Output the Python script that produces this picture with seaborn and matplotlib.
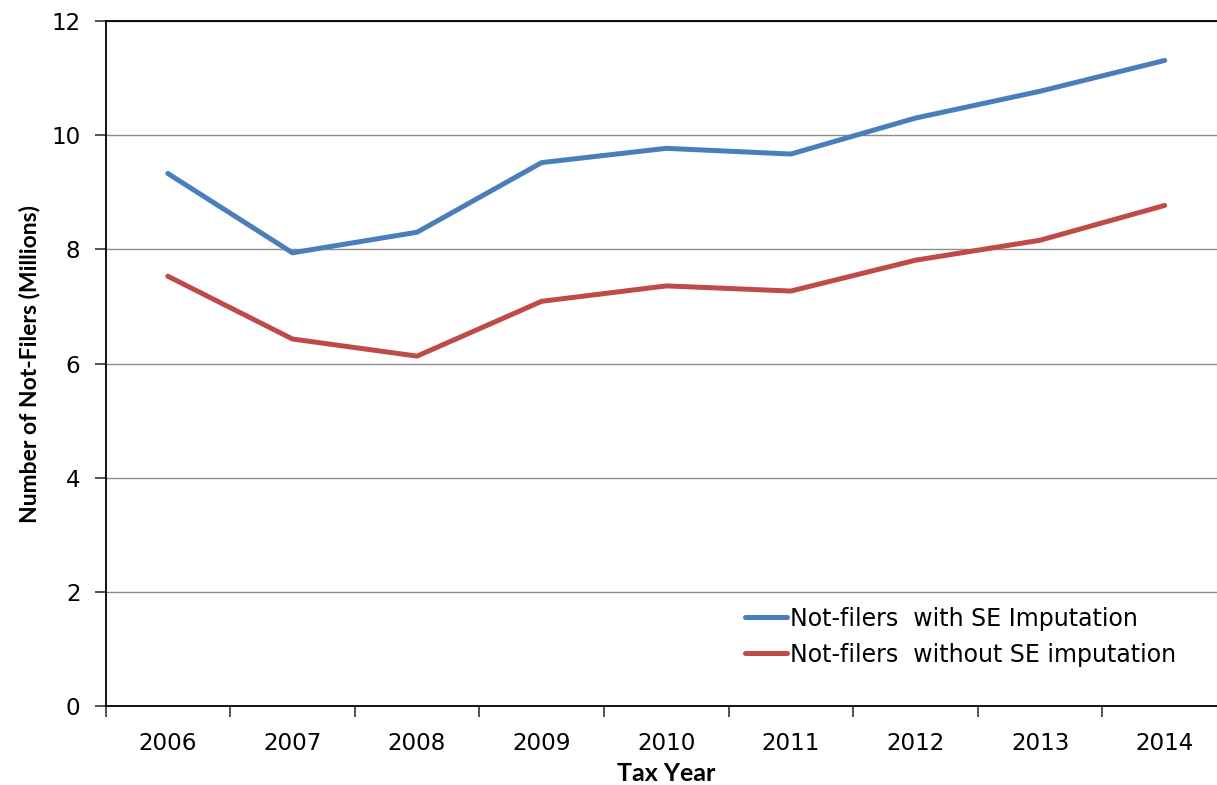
import matplotlib
matplotlib.use("Agg")
import matplotlib.pyplot as plt
import seaborn as sns
import pandas as pd

years = [2006, 2007, 2008, 2009, 2010, 2011, 2012, 2013, 2014]
with_se = [9.33, 7.94, 8.30, 9.52, 9.77, 9.67, 10.30, 10.77, 11.31]
without_se = [7.53, 6.43, 6.13, 7.09, 7.36, 7.27, 7.81, 8.16, 8.77]
series_names = ["Not-filers  with SE Imputation", "Not-filers  without SE imputation"]
colors = ["#4A7EBB", "#BE4B48"]

df = pd.DataFrame({
    "Tax Year": years * 2,
    "value": with_se + without_se,
    "series": [series_names[0]] * len(years) + [series_names[1]] * len(years),
})

sns.set_style("white")
plt.rcParams["font.family"] = ["DejaVu Sans"]
plt.rcParams["text.color"] = "black"
plt.rcParams["xtick.color"] = "black"
plt.rcParams["ytick.color"] = "black"
plt.rcParams["axes.labelcolor"] = "black"

fig = plt.figure(figsize=(12.17, 7.85), dpi=100)
ax = fig.add_axes([0.0867, 0.1006, 0.9215, 0.8726])

sns.lineplot(data=df, x="Tax Year", y="value", hue="series",
             palette=colors, linewidth=3.6, ax=ax,
             solid_capstyle="round")

ax.set_xlim(years[0] - 0.5, years[-1] + 0.5)
ax.set_ylim(0, 12)
ax.set_yticks(range(0, 13, 2))
ax.yaxis.grid(True, color="#8c8c8c", linewidth=1.0)
ax.set_axisbelow(True)

# category boundaries carry the tick marks, labels sit at category centres
ax.set_xticks([y - 0.5 for y in years] + [years[-1] + 0.5])
ax.set_xticklabels([])
ax.set_xticks(years, minor=True)
ax.set_xticklabels([str(y) for y in years], minor=True, fontsize=16.6)
ax.tick_params(axis="x", which="major", length=8, width=1.2, color="#333333", direction="out", bottom=True)
ax.tick_params(axis="x", which="minor", length=0, pad=19)
ax.tick_params(axis="y", length=8, width=1.2, color="#333333", direction="out", left=True,
               labelsize=16.6, pad=10)

for side in ["left", "bottom", "top"]:
    ax.spines[side].set_visible(True)
    ax.spines[side].set_color("black")
    ax.spines[side].set_linewidth(1.3)
ax.spines["right"].set_visible(False)

ax.set_xlabel("Tax Year", fontsize=18, fontweight="bold", family="Lato", labelpad=5)
ax.set_ylabel("Number of Not-Filers (Millions)", fontsize=16.5, fontweight="bold",
              family="Lato", labelpad=8)

leg = ax.legend(loc="upper left", bbox_to_anchor=(0.570, 0.145), frameon=False,
                fontsize=17, handlelength=1.8, handletextpad=0.1, labelspacing=0.5,
                borderaxespad=0, borderpad=0)
for line in leg.get_lines():
    line.set_linewidth(3.6)

fig.savefig("out.png", dpi=100)
